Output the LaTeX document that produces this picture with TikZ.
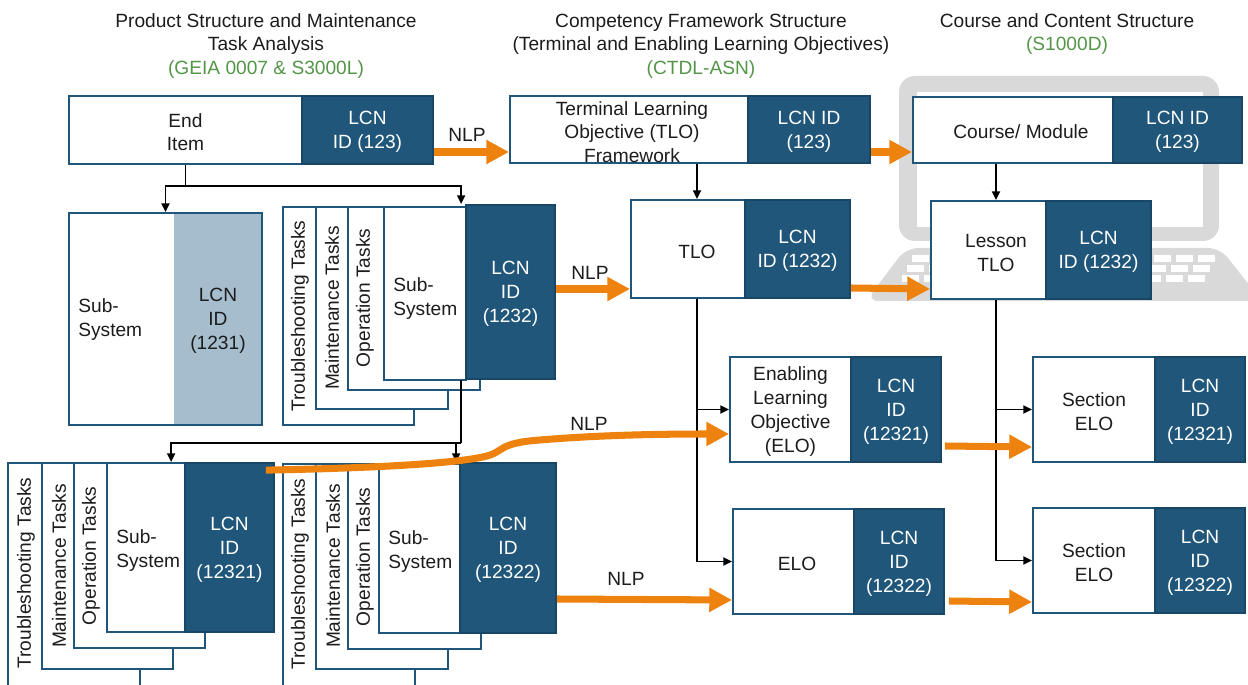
\documentclass[tikz,border=0pt]{standalone}
\usepackage{fontspec}
\setmainfont{Liberation Sans}
\usetikzlibrary{arrows.meta,fit,calc}

\definecolor{lcn}{RGB}{31,86,122}
\definecolor{lcnEdge}{RGB}{24,70,102}
\definecolor{lcnLight}{RGB}{166,189,206}
\definecolor{nlpOrange}{RGB}{238,130,14}
\definecolor{stdGreen}{RGB}{84,150,72}
\definecolor{device}{RGB}{217,217,217}
\definecolor{txt}{RGB}{28,28,28}

\begin{document}
\begin{tikzpicture}[x=0.02cm,y=-0.02cm,
  every node/.style={font=\fontsize{10.9}{13.6}\selectfont, text=txt},
  wbox/.style={draw=lcn, line width=1pt, fill=white, inner sep=0pt},
  dbox/.style={draw=lcnEdge, line width=1pt, fill=lcn, inner sep=0pt},
  lbox/.style={fill=lcnLight, inner sep=0pt},
  cardbox/.style={draw=lcn, line width=0.9pt, fill=white},
  tasklabel/.style={rotate=90, inner sep=0pt},
  plain/.style={inner sep=0pt, align=center, yshift=-1.2pt},
  idtext/.style={inner sep=0pt, align=center, text=white, yshift=-1.2pt},
  leftplain/.style={inner sep=0pt, align=left, anchor=west, yshift=-1pt},
  treeline/.style={draw=black, line width=1.1pt},
  treearrow/.style={draw=black, line width=1.1pt, -{Triangle[length=5pt,width=4.5pt]}},
  nlparrow/.style={draw=nlpOrange, line width=4pt, -{Triangle[length=13pt,width=13pt]}},
  head/.style={inner sep=0pt, align=center}
]
\useasboundingbox (0,0) rectangle (1248,685);
\clip (0,0) rectangle (1248,685);

% ---------- laptop behind the course column ----------
\fill[device, rounded corners=9] (899,76) rectangle (1219,241);
\fill[white] (917,92) rectangle (1203,227);
\fill[device, rounded corners=7] (906,248) -- (1220,248) -- (1262,301) -- (866,301) -- cycle;
\foreach \r in {0,1,2} {
  \foreach \k in {0,...,13} {
    \fill[white] ({912-5*\r+22*\k},{255+10*\r}) rectangle ++(17,7);
  }
}

% ---------- column headings ----------
\node[head] (hProd) at (266,46) {Product Structure and Maintenance\\Task Analysis\\\textcolor{stdGreen}{(GEIA 0007 \& S3000L)}};
\node[head] (hComp) at (701,46) {Competency Framework Structure\\(Terminal and Enabling Learning Objectives)\\\textcolor{stdGreen}{(CTDL-ASN)}};
\node[head] (hCourse) at (1067,34) {Course and Content Structure\\\textcolor{stdGreen}{(S1000D)}};

% ---------- top row ----------
\node[wbox, fit={(69,96) (302,164)}] (endW) {};
\node[plain] (endTxt) at (endW.center) {End\\Item};
\node[dbox, fit={(302,96) (433,164)}] (endD) {};
\node[idtext] (endId) at (endD.center) {LCN\\ID (123)};

\node[wbox, fit={(510,96) (748,163)}] (tfW) {};
\node[plain] (tfTxt) at (632,130) {Terminal Learning\\Objective (TLO)\\Framework};
\node[dbox, fit={(748,96) (870,163)}] (tfD) {};
\node[idtext] (tfId) at (tfD.center) {LCN ID\\(123)};

\node[wbox, fit={(913,97) (1113,163)}] (courseW) {};
\node[plain] (courseTxt) at (1021,130) {Course/ Module};
\node[dbox, fit={(1113,97) (1242,163)}] (courseD) {};
\node[idtext] (courseId) at (courseD.center) {LCN ID\\(123)};

% ---------- sub-system without tasks ----------
\node[fill=white, inner sep=0pt, fit={(69,213) (174,425)}] (ss1W) {};
\node[lbox, fit={(174,213) (262,425)}] (ss1L) {};
\node[plain] (ss1Id) at (ss1L.center) {LCN\\ID\\(1231)};
\node[draw=lcn, line width=1pt, inner sep=0pt, fit={(69,213) (262,425)}] (ss1) {};
\node[leftplain] (ss1Txt) at (78,318) {Sub-\\System};

% ---------- sub-system 1232 with task cards ----------
\draw[cardbox] (283,207) rectangle (414,425);
\draw[cardbox] (316,207) rectangle (448,409);
\draw[cardbox] (348,207) rectangle (480,390);
\node[tasklabel] (s1T) at (300,316) {Troubleshooting Tasks};
\node[tasklabel] (s1M) at (332,308) {Maintenance Tasks};
\node[tasklabel] (s1O) at (365,298) {Operation Tasks};
\node[wbox, fit={(384,207) (466,380)}] (s1W) {};
\node[leftplain] (s1Txt) at (393,297) {Sub-\\System};
\node[dbox, fit={(466,205) (555,379)}] (s1D) {};
\node[idtext] (s1Id) at (s1D.center) {LCN\\ID\\(1232)};

% ---------- sub-system 12321 with task cards ----------
\draw[cardbox] (8,463) rectangle (140,700);
\draw[cardbox] (42,463) rectangle (173,669);
\draw[cardbox] (74,463) rectangle (205,648);
\node[tasklabel] (b1T) at (26,573) {Troubleshooting Tasks};
\node[tasklabel] (b1M) at (59,566) {Maintenance Tasks};
\node[tasklabel] (b1O) at (91,556) {Operation Tasks};
\node[wbox, fit={(107,463) (185,632)}] (b1W) {};
\node[leftplain] (b1Txt) at (116,549) {Sub-\\System};
\node[dbox, fit={(185,463) (274,632)}] (b1D) {};
\node[idtext] (b1Id) at (b1D.center) {LCN\\ID\\(12321)};

% ---------- sub-system 12322 with task cards ----------
\draw[cardbox] (283,464) rectangle (415,700);
\draw[cardbox] (316,464) rectangle (448,669);
\draw[cardbox] (348,464) rectangle (481,649);
\node[tasklabel] (b2T) at (300,574) {Troubleshooting Tasks};
\node[tasklabel] (b2M) at (333,566) {Maintenance Tasks};
\node[tasklabel] (b2O) at (365,557) {Operation Tasks};
\node[wbox, fit={(379,464) (460,633)}] (b2W) {};
\node[leftplain] (b2Txt) at (388,550) {Sub-\\System};
\node[dbox, fit={(460,463) (556,633)}] (b2D) {};
\node[idtext] (b2Id) at (b2D.center) {LCN\\ID\\(12322)};

% ---------- learning objectives ----------
\node[wbox, fit={(631,200) (745,298)}] (tloW) {};
\node[plain] (tloTxt) at (697,250) {TLO};
\node[dbox, fit={(745,200) (850,298)}] (tloD) {};
\node[idtext] (tloId) at (tloD.center) {LCN\\ID (1232)};

\node[wbox, fit={(730,357) (851,462)}] (elo1W) {};
\node[plain] (elo1Txt) at (elo1W.center) {Enabling\\Learning\\Objective\\(ELO)};
\node[dbox, fit={(851,357) (941,462)}] (elo1D) {};
\node[idtext] (elo1Id) at (elo1D.center) {LCN\\ID\\(12321)};

\node[wbox, fit={(733,509) (854,614)}] (elo2W) {};
\node[plain] (elo2Txt) at (797,562) {ELO};
\node[dbox, fit={(854,509) (944,614)}] (elo2D) {};
\node[idtext] (elo2Id) at (elo2D.center) {LCN\\ID\\(12322)};

% ---------- lessons and sections ----------
\node[wbox, fit={(931,201) (1046,299)}] (lesW) {};
\node[plain] (lesTxt) at (996,251) {Lesson\\TLO};
\node[dbox, fit={(1046,201) (1151,299)}] (lesD) {};
\node[idtext] (lesId) at (lesD.center) {LCN\\ID (1232)};

\node[wbox, fit={(1033,357) (1155,462)}] (sec1W) {};
\node[plain] (sec1Txt) at (sec1W.center) {Section\\ELO};
\node[dbox, fit={(1155,357) (1245,462)}] (sec1D) {};
\node[idtext] (sec1Id) at (sec1D.center) {LCN\\ID\\(12321)};

\node[wbox, fit={(1033,508) (1155,613)}] (sec2W) {};
\node[plain] (sec2Txt) at (sec2W.center) {Section\\ELO};
\node[dbox, fit={(1155,508) (1245,613)}] (sec2D) {};
\node[idtext] (sec2Id) at (sec2D.center) {LCN\\ID\\(12322)};

% ---------- hierarchy connectors ----------
\coordinate (endSplit) at (endW.south |- 0,186);
\draw[treeline] (endW.south) -- (endSplit);
\draw[treearrow] (endSplit) -| (ss1.north);
\draw[treearrow] (endSplit) -| ($(s1D.north west)+(-4,0)$);

\coordinate (s1Foot) at ($(s1D.south west)+(-4,0)$);
\coordinate (s1Split) at (s1Foot |- 0,443);
\draw[treeline] (s1Foot) -- (s1Split);
\draw[treearrow] (s1Split) -| ($(b1D.north west)+(-13,0)$);
\draw[treearrow] (s1Split) -| ($(b2D.north west)+(-3,0)$);

\draw[treearrow] (tfW.south -| tloTxt) -- (tloW.north -| tloTxt);
\draw[treearrow] (tloW.south -| tloTxt) |- (elo1W.west);
\draw[treearrow] (tloW.south -| tloTxt) |- (elo2W.west);

\draw[treearrow] (courseW.south -| lesTxt) -- (lesW.north -| lesTxt);
\draw[treearrow] (lesW.south -| lesTxt) |- (sec1W.west);
\draw[treearrow] (lesW.south -| lesTxt) |- (sec2W.west);

% ---------- NLP mappings ----------
\draw[nlparrow] (endD.east |- 0,152) -- (tfW.west |- 0,152);
\node[plain] (nlp1) at (467,133) {NLP};
\draw[nlparrow] (tfD.east |- 0,152) -- (courseW.west |- 0,152);

\draw[nlparrow] (s1D.east |- 0,289) -- (tloW.west |- 0,289);
\node[plain] (nlp2) at (590,271) {NLP};
\draw[nlparrow] (tloD.east |- 0,288) -- (lesW.west |- 0,289);

\draw[nlparrow] ($(b1D.north east)+(-9,8)$)
  .. controls (380,468) and (460,463) .. (487,456)
  .. controls (505,451) and (498,443) .. (540,440)
  .. controls (600,435) and (660,434) .. (elo1W.west |- 0,434);
\node[plain] (nlp3) at (589,422) {NLP};
\draw[nlparrow] ($(elo1D.east |- 0,446)+(3,0)$) -- (sec1W.west |- 0,447);

\draw[nlparrow] (b2D.east |- 0,599) -- (elo2W.west |- 0,600);
\node[plain] (nlp4) at (626,577) {NLP};
\draw[nlparrow] ($(elo2D.east |- 0,601)+(4,0)$) -- (sec2W.west |- 0,602);
\end{tikzpicture}
\end{document}
